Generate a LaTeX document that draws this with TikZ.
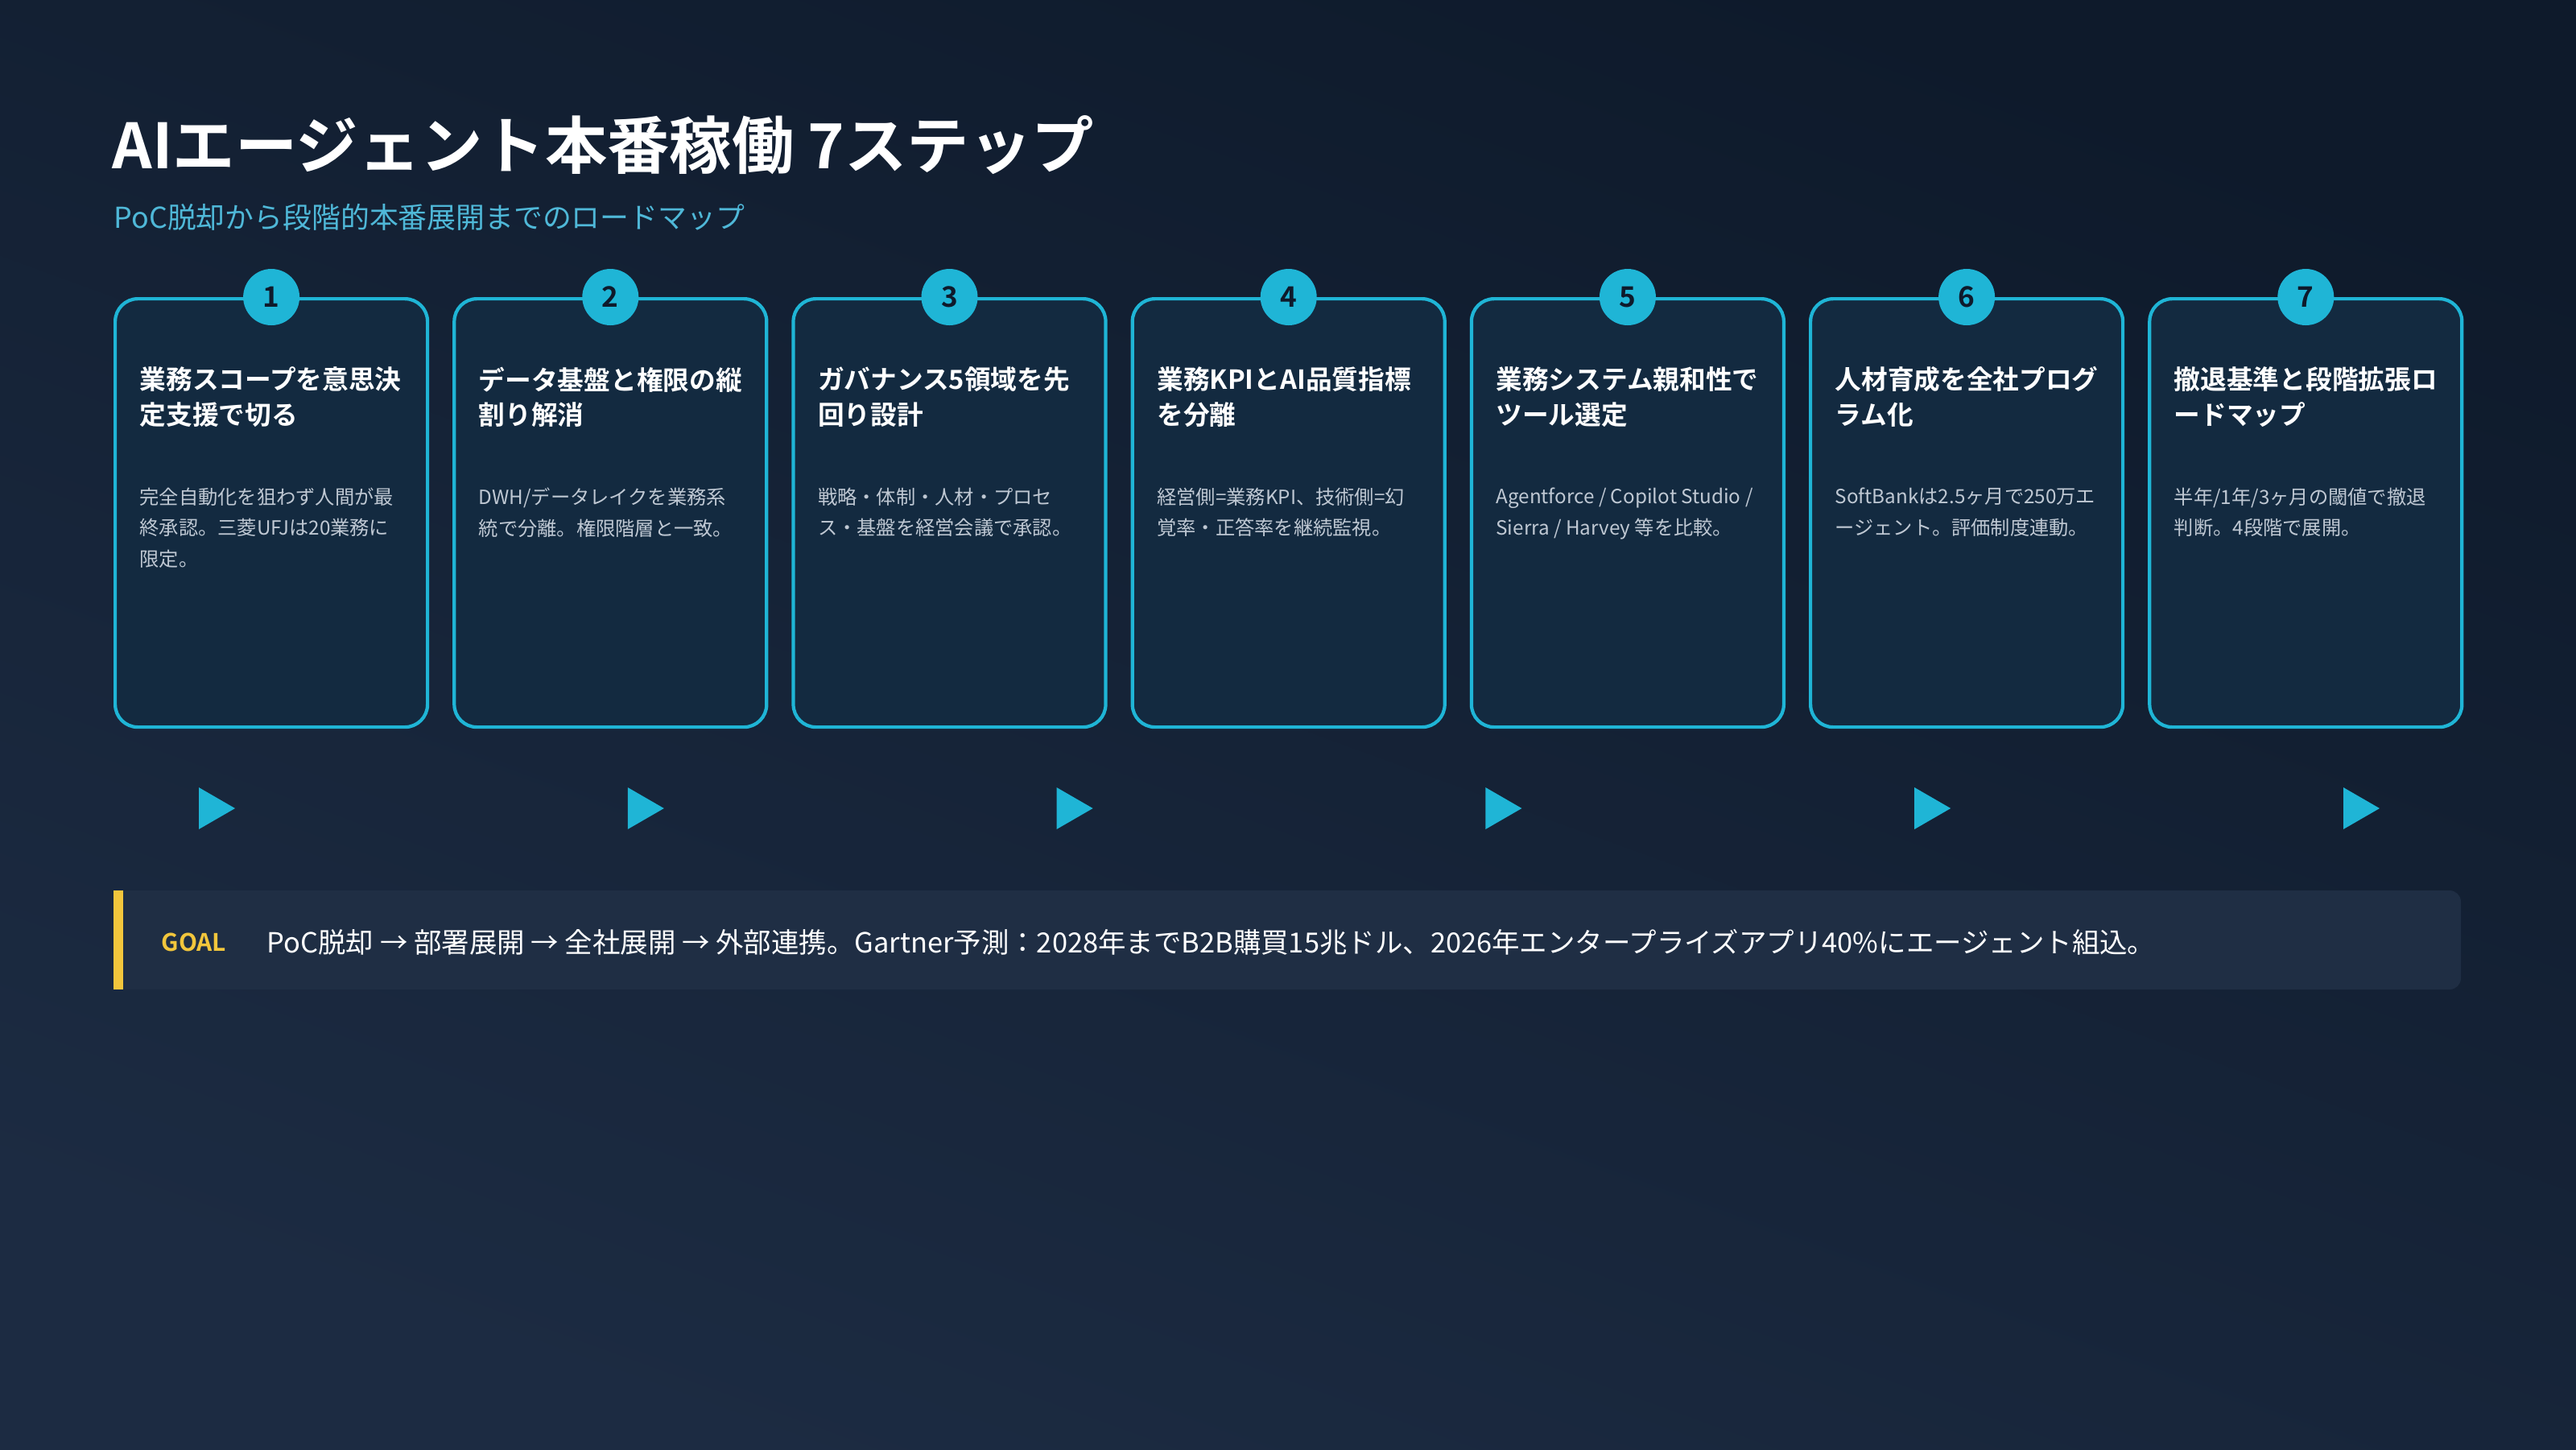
\documentclass[tikz,border=0pt]{standalone}
\usepackage{fontspec}
\setmainfont{Noto Sans CJK JP}
\newfontfamily\jpbold{Noto Sans CJK JP Bold}
\usetikzlibrary{shapes.geometric}
\definecolor{bgtop}{HTML}{0E1A2B}
\definecolor{bgbot}{HTML}{1C2B42}
\definecolor{cardfill}{HTML}{132A40}
\definecolor{cyanline}{HTML}{1FB5D6}
\definecolor{subcol}{HTML}{4FB8D8}
\definecolor{bodycol}{HTML}{BFC8D3}
\definecolor{goalfill}{HTML}{1F2E44}
\definecolor{goalyel}{HTML}{F2C63C}
\tikzset{
  card/.style={draw=cyanline, line width=1.2pt, fill=cardfill, rounded corners=8pt,
    minimum width=3.88cm, minimum height=5.32cm, anchor=north west},
  badge/.style={circle, fill=cyanline, minimum size=0.70cm, inner sep=0pt,
    font=\jpbold\fontsize{10}{10}\selectfont, text=bgtop},
  ctitle/.style={anchor=north west, align=left, text=white, inner sep=0pt,
    font=\jpbold\fontsize{9.3}{12.4}\selectfont},
  cbody/.style={anchor=north west, align=left, text=bodycol, inner sep=0pt,
    font=\fontsize{6.9}{11}\selectfont},
  flowtri/.style={isosceles triangle, isosceles triangle apex angle=60, fill=cyanline,
    inner sep=0pt, minimum height=0.45cm, minimum width=0.50cm},
}
\begin{document}
\begin{tikzpicture}
  \useasboundingbox (0,0) rectangle (32,-18);
  \shade[top color=bgtop, bottom color=bgbot, shading angle=-20] (0,0) rectangle (32,-18);

  % heading
  \node[anchor=west, text=white, inner sep=0pt, font=\jpbold\fontsize{22}{22}\selectfont]
    (title) at (1.39,-1.80) {AIエージェント本番稼働 7ステップ};
  \node[anchor=west, text=subcol, inner sep=0pt, font=\fontsize{10.2}{10.2}\selectfont]
    (subtitle) at (1.41,-2.70) {PoC脱却から段階的本番展開までのロードマップ};

  % cards
  \foreach \i/\tA/\tB/\bA/\bB/\bC in {
    1/業務スコープを意思決/定支援で切る/完全自動化を狙わず人間が最/終承認。三菱UFJは20業務に/限定。,
    2/データ基盤と権限の縦/割り解消/DWH{/}データレイクを業務系/統で分離。権限階層と一致。/,
    3/ガバナンス5領域を先/回り設計/戦略・体制・人材・プロセ/ス・基盤を経営会議で承認。/,
    4/業務KPIとAI品質指標/を分離/経営側=業務KPI、技術側=幻/覚率・正答率を継続監視。/,
    5/業務システム親和性で/ツール選定/{Agentforce / Copilot Studio /}/{Sierra / Harvey 等を比較。}/,
    6/人材育成を全社プログ/ラム化/SoftBankは2.5ヶ月で250万エ/ージェント。評価制度連動。/,
    7/撤退基準と段階拡張ロ/ードマップ/{半年/1年/3ヶ月の閾値で撤退}/判断。4段階で展開。/}
  {
    \node[card] (card\i) at ({1.41+(\i-1)*4.212},-3.69) {};
    \node[badge] (num\i) at (card\i.north) {\i};
    \node[ctitle] (head\i) at ([xshift=0.32cm,yshift=-0.86cm]card\i.north west) {\tA\\\tB};
    \node[cbody] (text\i) at ([xshift=0.32cm,yshift=-2.36cm]card\i.north west) {\bA\\\bB\\\bC};
  }

  % flow marks
  \foreach \k in {1,...,6}
    \node[flowtri] (tri\k) at ({2.62+(\k-1)*5.328},-10.04) {};

  % goal bar
  \fill[goalfill, rounded corners=4pt] (1.41,-11.06) rectangle (30.57,-12.29);
  \fill[goalyel] (1.41,-11.06) rectangle (1.53,-12.29);
  \node[anchor=west, text=goalyel, inner sep=0pt, font=\jpbold\fontsize{8.5}{8.5}\selectfont]
    (goal) at (2.00,-11.70) {GOAL};
  \node[anchor=west, text=white, inner sep=0pt, font=\fontsize{9.8}{9.8}\selectfont]
    (goaltext) at (3.31,-11.70) {PoC脱却 → 部署展開 → 全社展開 → 外部連携。Gartner予測：2028年までB2B購買15兆ドル、2026年エンタープライズアプリ40\%にエージェント組込。};
\end{tikzpicture}
\end{document}
